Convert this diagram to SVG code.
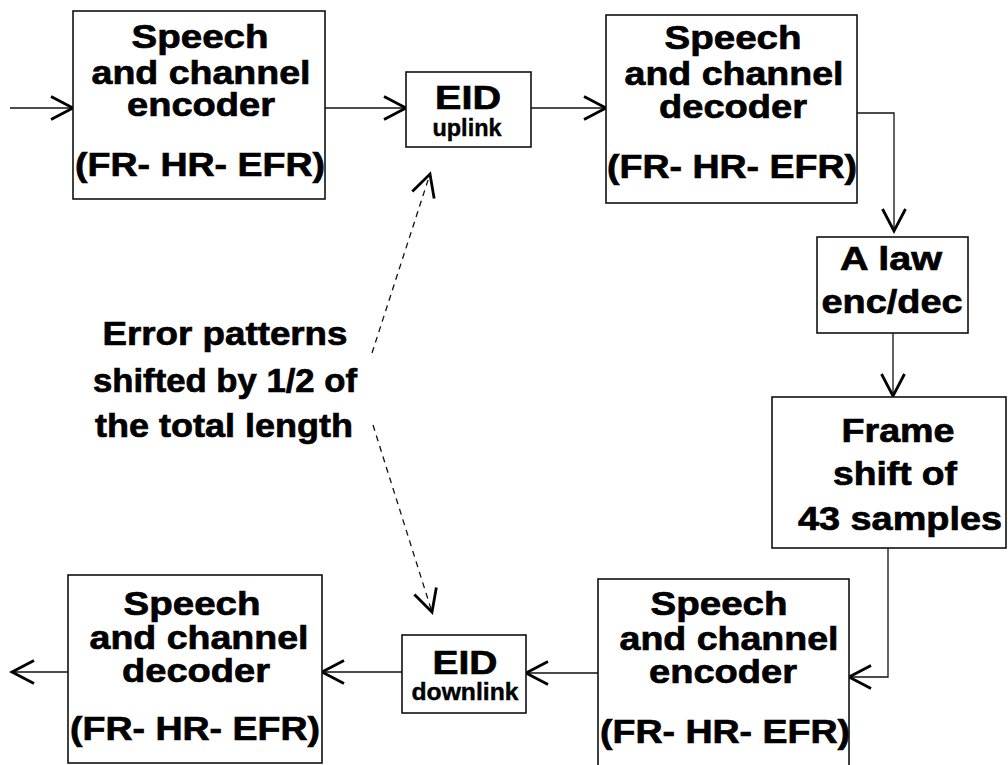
<svg xmlns="http://www.w3.org/2000/svg" width="1008" height="765" viewBox="0 0 1008 765">
<style>
.box{fill:#fff;stroke:#111;stroke-width:1.6}
.t{font-family:"Liberation Sans",Arial,sans-serif;font-weight:bold;font-size:34px;fill:#000;stroke:#000;stroke-width:0.7;text-anchor:middle}
.s{font-size:23px;stroke-width:0.4}
.ln{fill:none;stroke:#111;stroke-width:1.3}
.dash{fill:none;stroke:#111;stroke-width:1.3;stroke-dasharray:6 5}
</style>
<defs>
<marker id="ah" markerUnits="userSpaceOnUse" viewBox="-26 -14 30 28" markerWidth="30" markerHeight="28" refX="0" refY="0" orient="auto">
<path d="M-22,-11.5 L0,0 L-22,11.5" fill="none" stroke="#000" stroke-width="2.8" stroke-linejoin="miter"/>
</marker>
</defs>
<rect width="1008" height="765" fill="#fff"/>

<g id="connectors">
<line class="ln" x1="10" y1="108" x2="73" y2="108" marker-end="url(#ah)"/>
<line class="ln" x1="325" y1="108" x2="406" y2="108" marker-end="url(#ah)"/>
<line class="ln" x1="531" y1="108" x2="606" y2="108" marker-end="url(#ah)"/>
<polyline class="ln" points="857,113 894,113 894,231" marker-end="url(#ah)"/>
<line class="ln" x1="893" y1="333" x2="893" y2="396" marker-end="url(#ah)"/>
<polyline class="ln" points="888,548 888,677 849,677" marker-end="url(#ah)"/>
<line class="ln" x1="598" y1="673" x2="526" y2="673" marker-end="url(#ah)"/>
<line class="ln" x1="402" y1="672" x2="322" y2="672" marker-end="url(#ah)"/>
<line class="ln" x1="68" y1="672" x2="12" y2="672" marker-end="url(#ah)"/>
<line class="dash" x1="372" y1="353" x2="430" y2="174" marker-end="url(#ah)"/>
<line class="dash" x1="373" y1="425" x2="432" y2="612" marker-end="url(#ah)"/>
</g>

<g id="enc-top">
<rect class="box" x="73" y="11" width="252" height="188"/>
<text class="t" x="200" y="48" textLength="137" lengthAdjust="spacingAndGlyphs">Speech</text>
<text class="t" x="201" y="84" textLength="219" lengthAdjust="spacingAndGlyphs">and channel</text>
<text class="t" x="201" y="116" textLength="148" lengthAdjust="spacingAndGlyphs">encoder</text>
<text class="t" x="200" y="176" textLength="250" lengthAdjust="spacingAndGlyphs">(FR- HR- EFR)</text>
</g>

<g id="eid-up">
<rect class="box" x="406" y="72" width="125" height="75"/>
<text class="t" x="468" y="109" textLength="66" lengthAdjust="spacingAndGlyphs">EID</text>
<text class="t s" x="467" y="136" textLength="69" lengthAdjust="spacingAndGlyphs">uplink</text>
</g>

<g id="dec-top">
<rect class="box" x="606" y="15" width="251" height="188"/>
<text class="t" x="733" y="49" textLength="137" lengthAdjust="spacingAndGlyphs">Speech</text>
<text class="t" x="734" y="85" textLength="219" lengthAdjust="spacingAndGlyphs">and channel</text>
<text class="t" x="733" y="118" textLength="148" lengthAdjust="spacingAndGlyphs">decoder</text>
<text class="t" x="732" y="178" textLength="250" lengthAdjust="spacingAndGlyphs">(FR- HR- EFR)</text>
</g>

<g id="alaw">
<rect class="box" x="817" y="237" width="151" height="96"/>
<text class="t" x="891" y="270" textLength="102" lengthAdjust="spacingAndGlyphs">A law</text>
<text class="t" x="892" y="313" textLength="141" lengthAdjust="spacingAndGlyphs">enc/dec</text>
</g>

<g id="frame">
<rect class="box" x="772" y="397" width="234" height="151"/>
<text class="t" x="898" y="442" textLength="113" lengthAdjust="spacingAndGlyphs">Frame</text>
<text class="t" x="895" y="485" textLength="124" lengthAdjust="spacingAndGlyphs">shift of</text>
<text class="t" x="900" y="530" textLength="204" lengthAdjust="spacingAndGlyphs">43 samples</text>
</g>

<g id="enc-bottom">
<rect class="box" x="598" y="579" width="251" height="200"/>
<text class="t" x="719" y="615" textLength="137" lengthAdjust="spacingAndGlyphs">Speech</text>
<text class="t" x="729" y="650" textLength="219" lengthAdjust="spacingAndGlyphs">and channel</text>
<text class="t" x="723" y="683" textLength="148" lengthAdjust="spacingAndGlyphs">encoder</text>
<text class="t" x="725" y="743" textLength="250" lengthAdjust="spacingAndGlyphs">(FR- HR- EFR)</text>
</g>

<g id="eid-down">
<rect class="box" x="402" y="635" width="124" height="78"/>
<text class="t" x="465" y="674" textLength="65" lengthAdjust="spacingAndGlyphs">EID</text>
<text class="t s" x="465" y="700" textLength="107" lengthAdjust="spacingAndGlyphs">downlink</text>
</g>

<g id="dec-bottom">
<rect class="box" x="68" y="575" width="254" height="188"/>
<text class="t" x="192" y="615" textLength="137" lengthAdjust="spacingAndGlyphs">Speech</text>
<text class="t" x="199" y="649" textLength="219" lengthAdjust="spacingAndGlyphs">and channel</text>
<text class="t" x="196" y="682" textLength="148" lengthAdjust="spacingAndGlyphs">decoder</text>
<text class="t" x="195" y="740" textLength="250" lengthAdjust="spacingAndGlyphs">(FR- HR- EFR)</text>
</g>

<g id="error-label">
<text class="t" x="225" y="345" font-size="32" textLength="245" lengthAdjust="spacingAndGlyphs">Error patterns</text>
<text class="t" x="225" y="392" font-size="32" textLength="264" lengthAdjust="spacingAndGlyphs">shifted by 1/2 of</text>
<text class="t" x="224" y="437" font-size="32" textLength="258" lengthAdjust="spacingAndGlyphs">the total length</text>
</g>
</svg>
